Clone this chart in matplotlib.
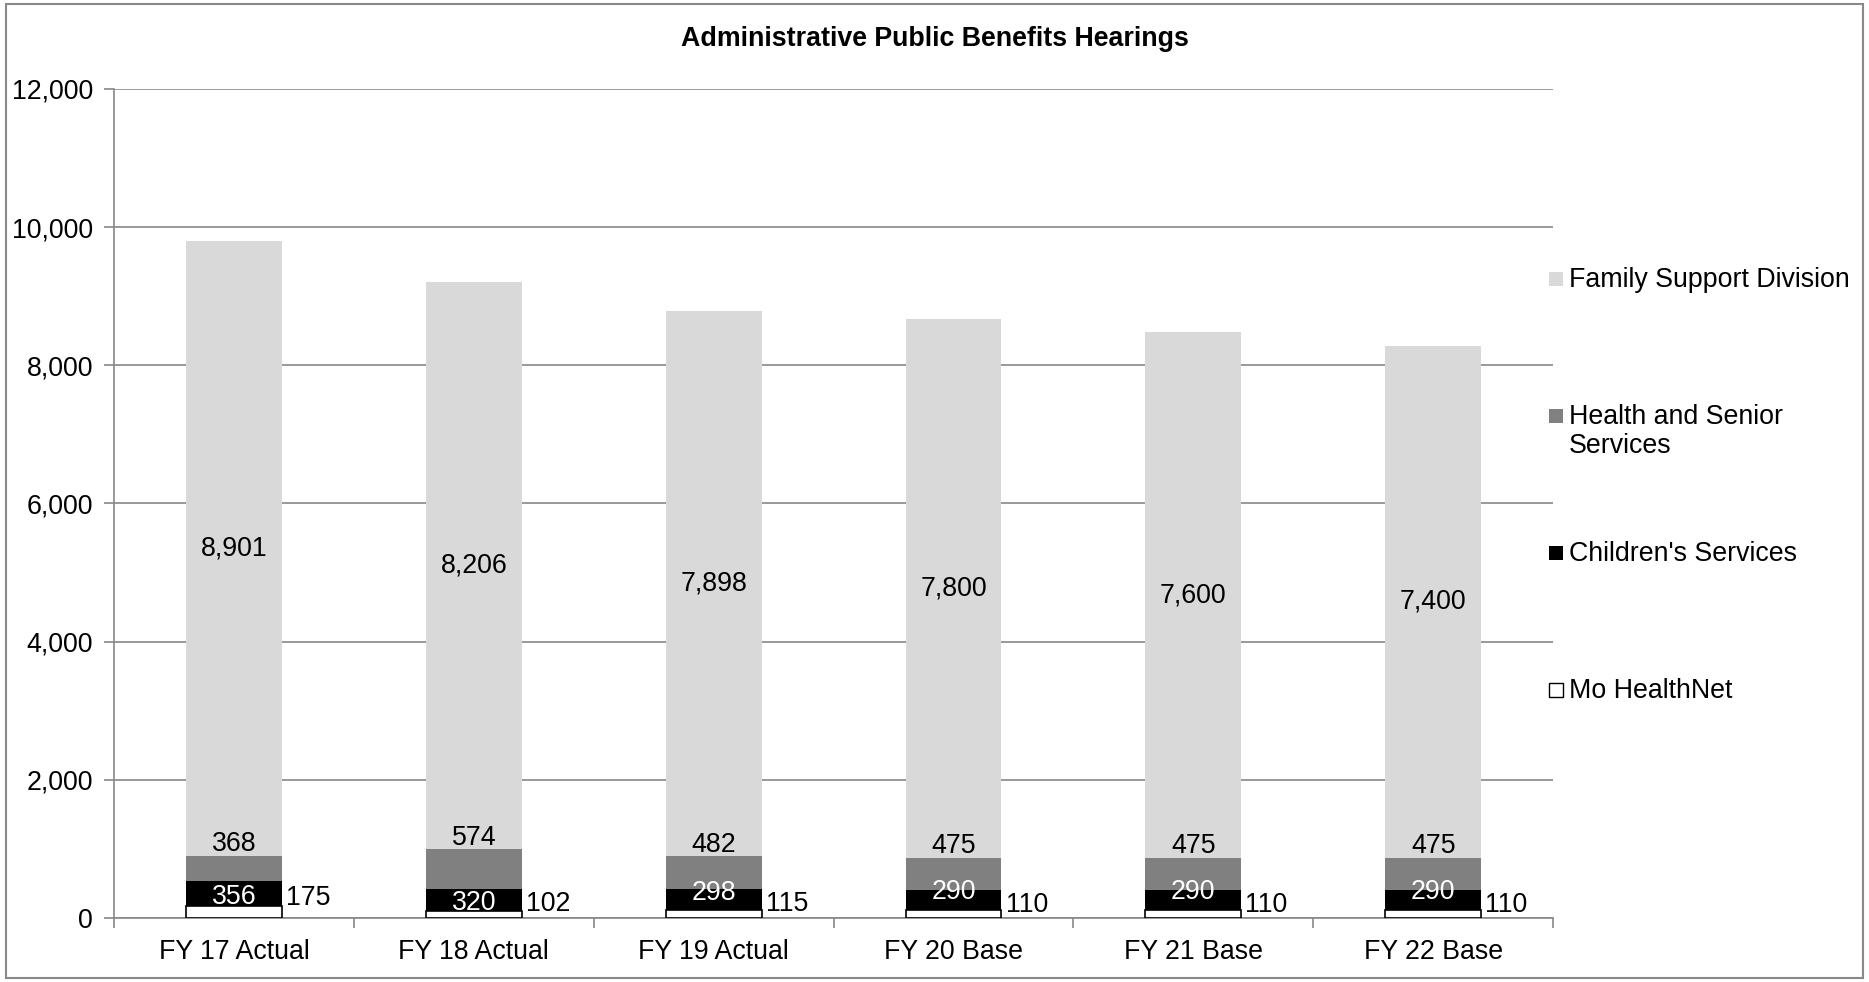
import numpy as np
import matplotlib.pyplot as plt
from matplotlib.patches import Rectangle

plt.rcParams['font.family'] = ['Liberation Sans', 'DejaVu Sans']

# data
categories = ['FY 17 Actual', 'FY 18 Actual', 'FY 19 Actual', 'FY 20 Base', 'FY 21 Base', 'FY 22 Base']
mo_healthnet = [175, 102, 115, 110, 110, 110]
childrens = [356, 320, 298, 290, 290, 290]
health_senior = [368, 574, 482, 475, 475, 475]
family_support = [8901, 8206, 7898, 7800, 7600, 7400]

# nudges of the white children's labels (data units), as placed in the original
ch_label_shift = [-55, -50, 100, 125, 125, 125]

grid_col = '#888888'

fig = plt.figure(figsize=(18.69, 9.82), dpi=100)
ax = fig.add_axes([0.061, 0.0652, 0.77, 0.8442])

x = np.arange(len(categories))
w = 0.4
mo = np.array(mo_healthnet)
ch = np.array(childrens)
hs = np.array(health_senior)
fs = np.array(family_support)

b_mo = ax.bar(x, mo, w, color='white', edgecolor='black', linewidth=1.2, label='Mo HealthNet', zorder=3)
b_ch = ax.bar(x, ch, w, bottom=mo, color='black', label="Children's Services", zorder=3)
b_hs = ax.bar(x, hs, w, bottom=mo + ch, color='#808080', label='Health and Senior\nServices', zorder=3)
b_fs = ax.bar(x, fs, w, bottom=mo + ch + hs, color='#d9d9d9', label='Family Support Division', zorder=3)

fsz = 19.3
for i in range(len(x)):
    ax.text(x[i], mo[i] + ch[i] + hs[i] + fs[i] / 2, f'{fs[i]:,}', ha='center', va='center', fontsize=fsz, zorder=4)
    ax.annotate(f'{hs[i]:,}', (x[i], mo[i] + ch[i] + hs[i]), xytext=(0, -1), textcoords='offset points',
                ha='center', va='bottom', fontsize=fsz, zorder=4)
    ax.text(x[i], mo[i] + ch[i] / 2 + ch_label_shift[i], f'{ch[i]:,}', ha='center', va='center',
            fontsize=fsz, color='white', zorder=4)
    ax.annotate(f'{mo[i]:,}', (x[i] + w / 2, mo[i] + ch[i] / 2), xytext=(3, -3), textcoords='offset points',
                ha='left', va='center', fontsize=fsz, zorder=4)

ax.set_xlim(-0.5, len(x) - 0.5)
ax.set_ylim(0, 12000)
ax.set_yticks(np.arange(0, 12001, 2000))
ax.set_yticklabels([f'{v:,}' for v in range(0, 12001, 2000)], fontsize=fsz)
ax.set_xticks(x)
ax.set_xticklabels(categories, fontsize=fsz)
ax.set_xticks(np.arange(-0.5, len(x)), minor=True)
ax.tick_params(axis='x', which='major', length=0, pad=15)
ax.tick_params(axis='x', which='minor', length=7, color=grid_col, width=1.2)
ax.tick_params(axis='y', length=7, color=grid_col, width=1.2, pad=8)
ax.grid(axis='y', color=grid_col, linewidth=1.2, zorder=0)
for s in ['top', 'right']:
    ax.spines[s].set_visible(False)
for s in ['left', 'bottom']:
    ax.spines[s].set_color(grid_col)
    ax.spines[s].set_linewidth(1.2)

fig.text(0.5, 0.96, 'Administrative Public Benefits Hearings', ha='center', va='center',
         fontsize=fsz, fontweight='bold')

# legend drawn by hand: evenly spaced slots, two-line label hangs below its marker
handles = [b_fs, b_hs, b_ch, b_mo]
y0, dy = 0.7160, 0.1395
line_h = fsz * 1.15 / 72 * 100 / 982
mw, mh = 14 / 1869, 14 / 982
for k, h in enumerate(handles):
    yc = y0 - k * dy
    fig.add_artist(Rectangle((0.8288, yc - mh / 2), mw, mh, transform=fig.transFigure,
                             facecolor=h.patches[0].get_facecolor(), edgecolor='black' if k == 3 else 'none',
                             linewidth=1.0))
    fig.text(0.8395, yc + line_h / 2 - 0.004, h.get_label(), ha='left', va='top', fontsize=fsz,
             linespacing=1.15)

fig.add_artist(Rectangle((0.003, 0.004), 0.994, 0.992, transform=fig.transFigure,
                         fill=False, edgecolor='#898989', linewidth=1.5))

plt.savefig('out.png', dpi=100)
